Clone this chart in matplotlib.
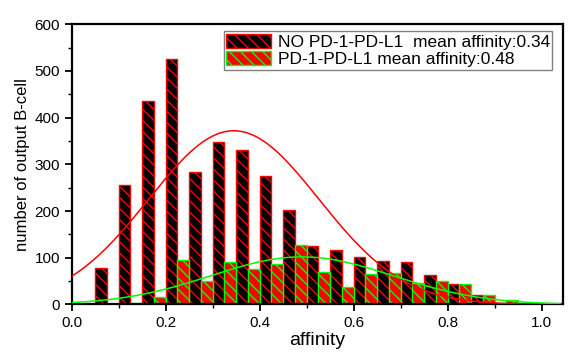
import numpy as np
import matplotlib
matplotlib.use("Agg")
import matplotlib.pyplot as plt
from matplotlib.ticker import MultipleLocator

plt.rcParams['font.family'] = ['Liberation Sans', 'DejaVu Sans']

# histogram data (left edge of each 0.05 bin)
bin_start = [0.05, 0.10, 0.15, 0.20, 0.25, 0.30, 0.35, 0.40, 0.45,
             0.50, 0.55, 0.60, 0.65, 0.70, 0.75, 0.80, 0.85, 0.90]
no_pd_counts = [79, 255, 436, 525, 283, 349, 331, 276, 202,
                125, 117, 102, 93, 92, 63, 43, 20, 0]
pd_counts = [0, 4, 17, 96, 50, 91, 75, 87, 127,
             70, 38, 65, 67, 47, 51, 44, 20, 10]

# gaussian fit parameters (amplitude, centre, sigma)
no_pd_fit = (372, 0.345, 0.181)
pd_fit = (102, 0.49, 0.193)

labels = ["NO PD-1-PD-L1  mean affinity:0.34",
          "PD-1-PD-L1 mean affinity:0.48"]

fig = plt.figure(figsize=(5.83, 3.52), dpi=100)
ax = fig.add_axes([0.123, 0.135, 0.843, 0.796])

w = 0.025
x0 = np.array(bin_start)
ax.bar(x0, no_pd_counts, width=w, align='edge', facecolor='black',
       edgecolor='red', hatch='\\\\\\', linewidth=1.0, label=labels[0], zorder=2)
ax.bar(x0 + w, pd_counts, width=w, align='edge', facecolor='red',
       edgecolor='#00ff00', hatch='\\\\\\', linewidth=1.0, label=labels[1], zorder=2)

def gauss(x, a, mu, s):
    return a * np.exp(-(x - mu) ** 2 / (2 * s ** 2))

xr = np.linspace(0, 1.0, 300)
ax.plot(xr, gauss(xr, *no_pd_fit), color='red', lw=1.1, zorder=3)
xg = np.linspace(0, 1.04, 300)
ax.plot(xg, gauss(xg, *pd_fit), color='#00ff00', lw=1.1, zorder=3)

ax.set_xlim(0, 1.046)
ax.set_ylim(0, 600)
ax.xaxis.set_major_locator(MultipleLocator(0.2))
ax.xaxis.set_minor_locator(MultipleLocator(0.1))
ax.yaxis.set_major_locator(MultipleLocator(100))
ax.yaxis.set_minor_locator(MultipleLocator(50))
ax.xaxis.set_major_formatter(plt.FormatStrFormatter('%.1f'))
ax.tick_params(which='major', direction='out', length=5, width=1.3, labelsize=11)
ax.tick_params(which='minor', direction='out', length=3, width=1.0)
ax.tick_params(top=False, right=False, which='both')
for sp in ax.spines.values():
    sp.set_linewidth(1.6)

ax.set_xlabel('affinity', fontsize=14, labelpad=1)
ax.set_ylabel('number of output B-cell', fontsize=12, labelpad=3)

leg = ax.legend(loc='upper right', bbox_to_anchor=(0.978, 0.975), fontsize=12.5,
                fancybox=False, edgecolor='gray', framealpha=1,
                handlelength=2.6, handleheight=0.9, handletextpad=0.35,
                labelspacing=0.05, borderpad=0.15, borderaxespad=0)
leg.get_frame().set_linewidth(1.0)

fig.savefig('out.png', dpi=100)
